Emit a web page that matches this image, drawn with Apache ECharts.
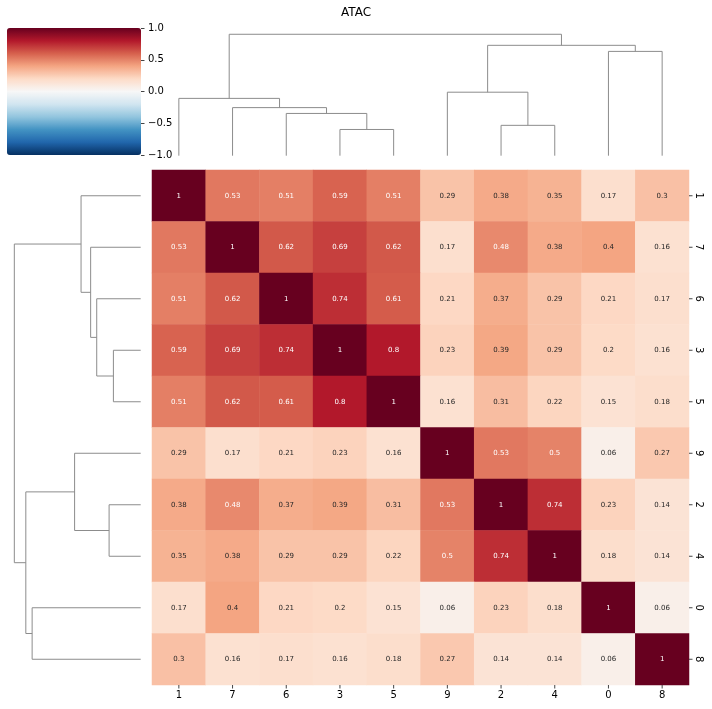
<!DOCTYPE html>
<html><head><meta charset="utf-8">
<script src="https://cdn.jsdelivr.net/npm/echarts@6/dist/echarts.min.js"></script>
<style>html,body{margin:0;padding:0;background:#fff}#c{width:712px;height:709px}</style>
</head><body><div id="c"></div>
<script>
const chartTitle = 'ATAC';
const leafOrder = ['1','7','6','3','5','9','2','4','0','8'];
// correlation values, rows in leafOrder, columns in leafOrder
const row_1 = [1, 0.53, 0.51, 0.59, 0.51, 0.29, 0.38, 0.35, 0.17, 0.3];
const row_7 = [0.53, 1, 0.62, 0.69, 0.62, 0.17, 0.48, 0.38, 0.4, 0.16];
const row_6 = [0.51, 0.62, 1, 0.74, 0.61, 0.21, 0.37, 0.29, 0.21, 0.17];
const row_3 = [0.59, 0.69, 0.74, 1, 0.8, 0.23, 0.39, 0.29, 0.2, 0.16];
const row_5 = [0.51, 0.62, 0.61, 0.8, 1, 0.16, 0.31, 0.22, 0.15, 0.18];
const row_9 = [0.29, 0.17, 0.21, 0.23, 0.16, 1, 0.53, 0.5, 0.06, 0.27];
const row_2 = [0.38, 0.48, 0.37, 0.39, 0.31, 0.53, 1, 0.74, 0.23, 0.14];
const row_4 = [0.35, 0.38, 0.29, 0.29, 0.22, 0.5, 0.74, 1, 0.18, 0.14];
const row_0 = [0.17, 0.4, 0.21, 0.2, 0.15, 0.06, 0.23, 0.18, 1, 0.06];
const row_8 = [0.3, 0.16, 0.17, 0.16, 0.18, 0.27, 0.14, 0.14, 0.06, 1];
const matrixRows = [row_1, row_7, row_6, row_3, row_5, row_9, row_2, row_4, row_0, row_8];

// dendrogram merges (relative linkage heights, top merge = 1)
const mergeName   = ['A', 'B', 'C', 'D', 'E', 'F', 'G', 'H', 'I'];
const mergeLeft   = ['3', '6', '7', '1', '2', '9', '0', 'F', 'D'];
const mergeRight  = ['5', 'A', 'B', 'C', '4', 'E', '8', 'G', 'H'];
const mergeHeight = [0.216, 0.348, 0.396, 0.472, 0.25, 0.523, 0.859, 0.909, 1.0];

const colorbarTicks = [-1, -0.5, 0, 0.5, 1];
const cmapStops = ['#053061','#2166ac','#4393c3','#92c5de','#d1e5f0','#f7f7f7','#fddbc7','#f4a582','#d6604d','#b2182b','#67001f'];

const FONT = 'DejaVu Sans';
const TICK_LEN = 3.5;
const TICK_COLOR = '#444';

function hexToRgb(h){ return [parseInt(h.slice(1,3),16), parseInt(h.slice(3,5),16), parseInt(h.slice(5,7),16)]; }
function cmap(v){
  const t = (v + 1) / 2 * (cmapStops.length - 1);
  const i = Math.min(Math.floor(t), cmapStops.length - 2);
  const f = t - i;
  const a = hexToRgb(cmapStops[i]), b = hexToRgb(cmapStops[i+1]);
  return a.map((c,k)=> c + (b[k]-c)*f);
}
function luminance(rgb){
  const l = rgb.map(c => { c = c/255; return c <= 0.03928 ? c/12.92 : Math.pow((c+0.055)/1.055, 2.4); });
  return 0.2126*l[0] + 0.7152*l[1] + 0.0722*l[2];
}
function fmt2g(v){ return String(parseFloat(v.toPrecision(2))); }

function buildLinks(){
  const pos = {}, hgt = {};
  leafOrder.forEach((n,i)=>{ pos[n] = i*10 + 5; hgt[n] = 0; });
  const links = [];
  mergeName.forEach((n,k)=>{
    const a = mergeLeft[k], b = mergeRight[k], h = mergeHeight[k];
    links.push([pos[a], hgt[a], pos[b], hgt[b], h]);
    pos[n] = (pos[a] + pos[b]) / 2; hgt[n] = h;
  });
  return links;
}
const links = buildLinks();
const hMax = Math.max(...mergeHeight) * 1.05;

const heatData = [];
matrixRows.forEach((row, r) => row.forEach((v, c) => {
  heatData.push({ value: [c, r, v], label: { color: luminance(cmap(v)) > 0.408 ? '#262626' : '#ffffff' } });
}));
const tickData = leafOrder.map((_, i) => [i, i]);

const dendroStyle = { stroke: '#8c8c8c', lineWidth: 1, fill: null };

function axisFurniture(showTick){
  return {
    axisLine: { show: false, onZero: false },
    splitLine: { show: false },
    axisTick: { show: showTick, inside: false, length: TICK_LEN, lineStyle: { color: TICK_COLOR, width: 1 } }
  };
}

const chart = echarts.init(document.getElementById('c'), null, { renderer: 'canvas' });
chart.setOption({
  animation: false,
  backgroundColor: '#fff',
  textStyle: { fontFamily: FONT },
  title: { text: chartTitle, left: 'center', top: 7, padding: 0,
    textStyle: { fontFamily: FONT, fontSize: 12, fontWeight: 'normal', color: '#000' } },
  grid: [
    { left: 152, top: 170, width: 537, height: 515 },          // heatmap
    { left: 152, top: 28.2, width: 537, height: 127.5 },        // column dendrogram
    { left: 8, top: 170, width: 132.7, height: 515 },           // row dendrogram
    { left: 7, top: 28, width: 134, height: 127 }               // colorbar axis
  ],
  xAxis: [
    Object.assign({ gridIndex: 0, type: 'category', data: leafOrder, position: 'bottom',
      axisLabel: { fontFamily: FONT, fontSize: 10, color: '#000', margin: 5 } }, axisFurniture(false)),
    { gridIndex: 1, type: 'value', min: 0, max: 100, show: false },
    { gridIndex: 2, type: 'value', min: 0, max: hMax, inverse: true, show: false },
    { gridIndex: 3, type: 'value', min: 0, max: 1, show: false }
  ],
  yAxis: [
    Object.assign({ gridIndex: 0, type: 'category', data: leafOrder, inverse: true, position: 'right',
      axisLabel: { fontFamily: FONT, fontSize: 10, color: '#000', rotate: -90, margin: 5 } }, axisFurniture(false)),
    { gridIndex: 1, type: 'value', min: 0, max: hMax, show: false },
    { gridIndex: 2, type: 'value', min: 0, max: 100, inverse: true, show: false },
    Object.assign({ gridIndex: 3, type: 'value', min: colorbarTicks[0], max: colorbarTicks[colorbarTicks.length-1],
      interval: colorbarTicks[1] - colorbarTicks[0], position: 'right',
      axisLabel: { fontFamily: FONT, fontSize: 10, color: '#000', margin: 7,
        formatter: v => (v < 0 ? '\u2212' : '') + Math.abs(v).toFixed(1) } }, axisFurniture(true))
  ],
  visualMap: {
    type: 'continuous', seriesIndex: 0, min: -1, max: 1, calculable: false, orient: 'vertical',
    left: 7, top: 28, itemWidth: 134, itemHeight: 127, padding: 0, text: null, hoverLink: false,
    inRange: { color: cmapStops }
  },
  series: [
    { type: 'heatmap', xAxisIndex: 0, yAxisIndex: 0, data: heatData,
      itemStyle: { borderWidth: 0 },
      label: { show: true, fontFamily: FONT, fontSize: 7, formatter: p => fmt2g(p.value[2]) },
      emphasis: { disabled: true } },
    { type: 'custom', xAxisIndex: 1, yAxisIndex: 1, data: links, silent: true,
      renderItem: (params, api) => {
        const pts = [
          api.coord([api.value(0), api.value(1)]),
          api.coord([api.value(0), api.value(4)]),
          api.coord([api.value(2), api.value(4)]),
          api.coord([api.value(2), api.value(3)])
        ];
        return { type: 'polyline', shape: { points: pts }, style: dendroStyle };
      } },
    { type: 'custom', xAxisIndex: 2, yAxisIndex: 2, data: links, silent: true,
      encode: { x: 1, y: 0 },
      renderItem: (params, api) => {
        const pts = [
          api.coord([api.value(1), api.value(0)]),
          api.coord([api.value(4), api.value(0)]),
          api.coord([api.value(4), api.value(2)]),
          api.coord([api.value(3), api.value(2)])
        ];
        return { type: 'polyline', shape: { points: pts }, style: dendroStyle };
      } },
    { type: 'line', xAxisIndex: 3, yAxisIndex: 3, data: [], silent: true },
    // tick marks of the heatmap's category axes, placed through the axes' own scales
    { type: 'custom', xAxisIndex: 0, yAxisIndex: 0, data: tickData, silent: true, clip: false, z: 5,
      renderItem: (params, api) => {
        const i = api.value(0);
        const last = leafOrder.length - 1;
        const size = api.size([1, 1]);
        const px = api.coord([i, last]);
        const py = api.coord([last, i]);
        const yb = px[1] + size[1] / 2;
        const xr = py[0] + size[0] / 2;
        const st = { stroke: TICK_COLOR, lineWidth: 1 };
        return { type: 'group', children: [
          { type: 'line', shape: { x1: px[0], y1: yb, x2: px[0], y2: yb + TICK_LEN }, style: st },
          { type: 'line', shape: { x1: xr, y1: py[1], x2: xr + TICK_LEN, y2: py[1] }, style: st }
        ] };
      } }
  ]
});
</script></body></html>
